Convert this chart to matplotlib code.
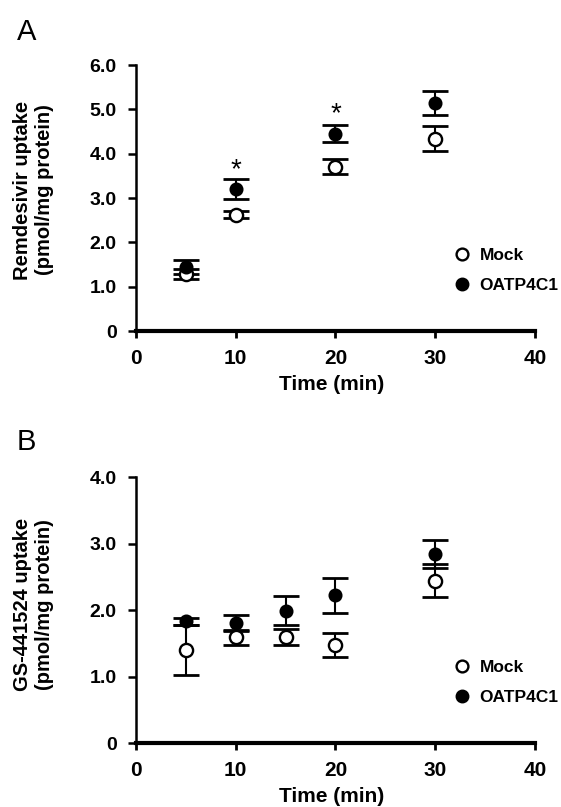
import numpy as np
import matplotlib
matplotlib.use("Agg")
import matplotlib.pyplot as plt
from matplotlib.lines import Line2D

plt.rcParams["font.family"] = ["Liberation Sans", "DejaVu Sans"]
plt.rcParams["font.weight"] = "bold"
plt.rcParams["axes.labelweight"] = "bold"

# --- panel A: remdesivir ---
TIME_A = [5, 10, 20, 30]
MOCK_A = [1.28, 2.62, 3.71, 4.34]
MOCK_A_SD = [0.11, 0.08, 0.17, 0.29]
OATP_A = [1.44, 3.20, 4.45, 5.14]
OATP_A_SD = [0.16, 0.22, 0.19, 0.27]
STAR_A_X = [10, 20]
STAR_A_Y = [3.82, 5.08]

# --- panel B: GS-441524 ---
TIME_B = [5, 10, 15, 20, 30]
MOCK_B = [1.40, 1.59, 1.59, 1.48, 2.44]
MOCK_B_SD = [0.37, 0.11, 0.12, 0.18, 0.25]
OATP_B = [1.83, 1.81, 1.99, 2.22, 2.84]
OATP_B_SD = [0.05, 0.12, 0.22, 0.26, 0.21]

X_TICKS = [0, 10, 20, 30, 40]
Y_TICKS_A = [0, 1, 2, 3, 4, 5, 6]
Y_TICKS_B = [0, 1, 2, 3, 4]
SERIES = ["Mock", "OATP4C1"]


def ytick_label(v):
    return "0" if v == 0 else f"{v:.1f}"


def draw_panel(ax, t, mock, mock_sd, oatp, oatp_sd, yticks, ylabel, ylab_y,
               star_x=(), star_y=()):
    eb = dict(fmt="none", ecolor="black", elinewidth=1.5, capsize=9.5,
              capthick=2.0, zorder=2)
    ax.errorbar(t, mock, yerr=mock_sd, **eb)
    ax.errorbar(t, oatp, yerr=oatp_sd, **eb)
    ax.plot(t, mock, "o", ms=9.5, mfc="white", mec="black", mew=1.7,
            zorder=3, clip_on=False)
    ax.plot(t, oatp, "o", ms=8.6, mfc="black", mec="black", mew=1.5,
            zorder=4, clip_on=False)
    for x, y in zip(star_x, star_y):
        ax.annotate("*", (x, y), xytext=(0, -6), textcoords="offset points",
                    ha="center", va="center", fontsize=20, fontweight="normal")

    ax.set_xlim(0, 40)
    ax.set_ylim(0, yticks[-1])
    ax.set_xticks(X_TICKS)
    ax.set_xticklabels([str(v) for v in X_TICKS], fontsize=15, fontweight="bold")
    ax.set_yticks(yticks)
    ax.set_yticklabels([ytick_label(v) for v in yticks], fontsize=14, fontweight="bold")
    for s in ("top", "right"):
        ax.spines[s].set_visible(False)
    ax.spines["left"].set_linewidth(1.8)
    ax.spines["bottom"].set_linewidth(3.0)
    ax.tick_params(axis="y", direction="out", length=6, width=1.8, pad=8)
    ax.tick_params(axis="x", direction="out", length=5, width=2.0, pad=8)

    ax.text(-0.256, ylab_y, ylabel, transform=ax.transAxes, rotation=90,
            ha="center", va="center", multialignment="center", fontsize=14.5,
            fontweight="bold")
    ax.set_xlabel("Time (min)", fontsize=15, fontweight="bold")
    ax.xaxis.set_label_coords(0.49, -0.165)

    handles = [
        Line2D([], [], ls="none", marker="o", ms=8.5, mfc="white", mec="black", mew=1.7),
        Line2D([], [], ls="none", marker="o", ms=8.5, mfc="black", mec="black", mew=1.5),
    ]
    ax.legend(handles, SERIES, loc="center left", bbox_to_anchor=(0.796, 0.228),
              frameon=False, handlelength=1.0, handletextpad=0.5, borderpad=0,
              borderaxespad=0, labelspacing=0.85,
              prop={"size": 12.5, "weight": "bold"})


fig = plt.figure(figsize=(5.61, 8.07), dpi=100)
ax_a = fig.add_axes([0.2424, 0.5898, 0.7112, 0.3296])
ax_b = fig.add_axes([0.2424, 0.0793, 0.7112, 0.3296])

draw_panel(ax_a, TIME_A, MOCK_A, MOCK_A_SD, OATP_A, OATP_A_SD, Y_TICKS_A,
           "Remdesivir uptake\n(pmol/mg protein)", 0.53, STAR_A_X, STAR_A_Y)
draw_panel(ax_b, TIME_B, MOCK_B, MOCK_B_SD, OATP_B, OATP_B_SD, Y_TICKS_B,
           "GS-441524 uptake\n(pmol/mg protein)", 0.52)

fig.text(0.03, 1 - 18 / 807, "A", fontsize=21, fontweight="normal", va="top", ha="left")
fig.text(0.03, 1 - 428 / 807, "B", fontsize=21, fontweight="normal", va="top", ha="left")

fig.savefig("out.png", dpi=100, facecolor="white")
